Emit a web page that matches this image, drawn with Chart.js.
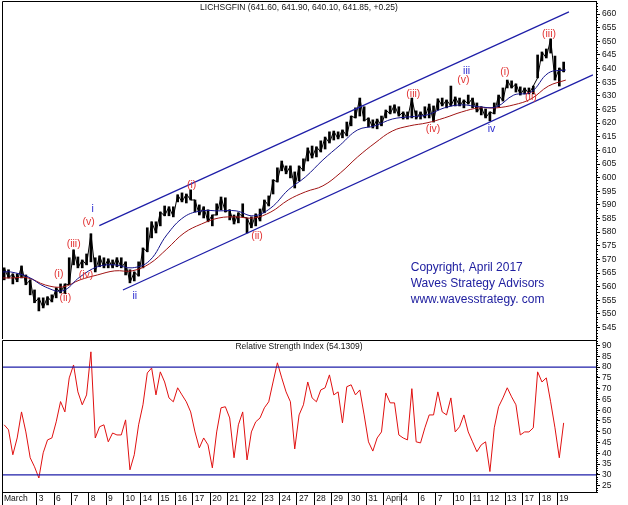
<!DOCTYPE html>
<html>
<head>
<meta charset="utf-8">
<script src="https://cdn.jsdelivr.net/npm/chart.js@4"></script>
<style>
  body { margin: 0; background: #fff; }
  #wrap { position: relative; width: 628px; height: 505px; }
  #pricePanel { position: absolute; left: 0; top: 0; }
  #rsiPanel { position: absolute; left: 0; top: 340px; }
</style>
</head>
<body>
<div id="wrap">
  <canvas id="pricePanel" width="628" height="340"></canvas>
  <canvas id="rsiPanel" width="628" height="165"></canvas>
</div>
<script>
// ---- data ----
const BARS_PER_DAY = 4;

// one entry per trading session, '' = session without its own label
const dayLabels = ['March', '', '3', '6', '7', '8', '9', '10', '14', '15', '16', '17', '20', '21', '22', '23', '24',
  '27', '28', '29', '30', '31', 'April', '4', '6', '7', '10', '11', '12', '13', '17', '18', '19'];

const priceTicks = [545, 550, 555, 560, 565, 570, 575, 580, 585, 590, 595, 600, 605, 610, 615, 620, 625, 630,
  635, 640, 645, 650, 655, 660];
const rsiTicks = [25, 30, 35, 40, 45, 50, 55, 60, 65, 70, 75, 80, 85, 90];

const priceHigh = [
  566.9, 566.2, 564.7, 564.7, 567.6, 564.3, 562.5, 558.8, 555.9, 555.9,
  556.3, 557.0, 559.6, 561.0, 561.0, 570.6, 573.5, 570.9, 569.8, 572.0,
  579.4, 570.6, 571.3, 570.6, 570.2, 569.8, 570.6, 570.6, 569.1, 566.2,
  565.4, 569.1, 574.2, 581.6, 583.8, 583.8, 587.4, 589.6, 589.3, 589.3,
  593.7, 594.4, 594.0, 595.5, 591.8, 590.0, 589.3, 588.2, 586.3, 590.4,
  592.9, 592.6, 588.2, 586.3, 587.1, 590.4, 585.2, 585.6, 586.7, 588.5,
  591.8, 593.3, 599.2, 603.6, 606.1, 604.3, 604.3, 602.1, 604.3, 606.9,
  610.9, 611.6, 611.3, 613.5, 614.9, 616.8, 617.1, 616.8, 617.5, 620.4,
  622.6, 625.6, 629.2, 626.0, 621.9, 621.2, 621.5, 622.6, 624.8, 626.3,
  626.7, 626.0, 624.1, 624.1, 629.2, 624.5, 624.1, 626.0, 627.0, 626.3,
  628.9, 629.2, 628.5, 633.6, 629.6, 629.2, 628.5, 630.3, 629.2, 627.4,
  626.0, 625.2, 624.1, 627.4, 630.3, 632.9, 635.8, 635.5, 634.4, 633.3,
  632.9, 632.9, 633.6, 645.0, 646.1, 647.2, 650.9, 644.6, 640.2, 642.4
];
const priceLow = [
  562.5, 563.2, 561.0, 561.8, 563.2, 560.7, 557.0, 554.1, 551.1, 552.2,
  553.3, 554.4, 555.9, 557.7, 557.4, 560.7, 568.0, 566.9, 566.9, 568.0,
  569.1, 565.4, 567.3, 566.9, 566.9, 566.9, 567.3, 566.9, 564.3, 561.4,
  562.1, 563.9, 566.9, 572.8, 577.9, 579.7, 582.3, 586.0, 586.0, 585.6,
  591.1, 591.1, 590.7, 591.8, 587.4, 586.3, 585.2, 583.8, 582.3, 586.3,
  588.2, 587.4, 584.5, 583.0, 583.4, 585.6, 579.7, 581.6, 582.3, 584.1,
  587.1, 589.6, 594.0, 598.4, 602.5, 601.4, 599.9, 596.2, 598.8, 602.5,
  606.1, 607.2, 607.6, 609.4, 610.5, 612.7, 613.8, 614.2, 614.6, 615.3,
  619.0, 621.9, 622.6, 620.8, 618.6, 618.2, 617.9, 619.0, 621.9, 623.4,
  623.7, 622.6, 621.5, 621.5, 621.9, 621.5, 621.5, 621.9, 621.9, 620.4,
  624.8, 626.3, 625.6, 626.3, 626.3, 626.3, 625.6, 627.0, 625.6, 624.1,
  623.0, 621.9, 620.8, 623.4, 626.0, 628.1, 632.9, 632.9, 631.4, 630.3,
  630.7, 630.7, 630.7, 636.6, 642.8, 643.9, 645.7, 635.8, 633.6, 638.8
];

// moving averages: first value at the session open, then one per session mid-point
const maFast = [565.4, 565.4, 563.6, 559.9, 558.5, 563.6, 567.3, 568.0, 566.9, 569.5, 579.0, 585.6, 587.8,
  587.8, 587.8, 586.0, 588.9, 595.5, 600.3, 606.5, 612.0, 617.5, 619.0, 621.5, 622.3, 623.0, 625.6,
  626.7, 626.0, 626.0, 630.3, 631.4, 638.4, 639.5];
const maSlow = [563.2, 563.2, 563.2, 560.6, 559.9, 562.5, 564.3, 565.8, 565.8, 568.4, 573.8, 579.7, 583.0,
  585.2, 585.6, 585.2, 587.4, 591.8, 594.8, 597.0, 601.7, 607.6, 612.7, 617.1, 619.0, 620.1, 621.9,
  624.1, 625.6, 625.6, 626.7, 628.9, 633.6, 635.8];

const rsiValues = [
  53.2, 50.9, 39.3, 47.1, 59.2, 49.9, 37.9, 33.7, 28.5, 40.2,
  46.2, 47.1, 54.6, 64.0, 59.2, 75.0, 81.0, 68.5, 62.5, 67.1,
  87.1, 47.1, 52.3, 53.2, 45.3, 49.4, 48.5, 48.5, 55.5, 32.3,
  39.3, 53.2, 62.5, 77.3, 79.6, 67.1, 77.8, 73.1, 65.7, 63.9,
  70.4, 67.1, 63.9, 59.2, 49.9, 42.5, 47.1, 43.9, 33.2, 49.9,
  61.1, 61.6, 56.4, 37.9, 53.2, 59.2, 36.9, 49.9, 54.6, 56.4,
  61.1, 63.9, 73.1, 82.0, 75.0, 68.5, 63.9, 42.0, 57.8, 62.5,
  73.1, 65.7, 63.9, 69.4, 70.4, 76.4, 67.1, 68.5, 54.1, 70.9,
  71.8, 67.1, 69.4, 57.8, 45.3, 41.0, 47.1, 49.9, 68.0, 63.4,
  63.4, 48.5, 47.1, 46.2, 70.0, 45.3, 44.8, 51.8, 57.8, 57.8,
  68.5, 59.2, 57.8, 65.7, 49.9, 52.3, 57.8, 49.9, 45.3, 40.7,
  43.9, 45.3, 31.5, 51.8, 61.6, 65.7, 70.4, 66.2, 62.5, 48.5,
  49.9, 49.9, 51.8, 77.8, 73.1, 75.0, 63.9, 51.8, 37.9, 54.1
];
const rsiUpperBand = 80;
const rsiLowerBand = 30;

// trend channel end points (session, price)
const channelUpper = [{ x: 5.61, y: 582.4 }, { x: 32.68, y: 660.8 }];
const channelLower = [{ x: 6.97, y: 558.8 }, { x: 34.06, y: 637.7 }];

// Elliott wave counts
const waveLabels = [
  { text: 'i', x: 5.23, y: 588.5, blue: true },
  { text: '(v)', x: 4.99, y: 583.6 },
  { text: '(iii)', x: 4.13, y: 575.7 },
  { text: '(i)', x: 3.27, y: 564.7 },
  { text: '(iv)', x: 4.84, y: 564.3 },
  { text: '(ii)', x: 3.65, y: 555.9 },
  { text: 'ii', x: 7.65, y: 556.6, blue: true },
  { text: '(i)', x: 10.93, y: 597.3 },
  { text: '(ii)', x: 14.70, y: 578.6 },
  { text: '(iii)', x: 23.71, y: 630.7 },
  { text: '(iv)', x: 24.84, y: 617.9 },
  { text: 'iii', x: 26.78, y: 639.2, blue: true },
  { text: '(v)', x: 26.59, y: 635.8 },
  { text: '(i)', x: 28.99, y: 638.8 },
  { text: 'iv', x: 28.22, y: 617.9, blue: true },
  { text: '(ii)', x: 30.49, y: 629.6 },
  { text: '(iii)', x: 31.53, y: 652.8 }
];
const noteLines = ['Copyright, April 2017', 'Waves Strategy Advisors', 'www.wavesstrategy. com'];
const notePrices = [566.9, 561.0, 555.2];
const noteSession = 23.56;

const priceTitle = 'LICHSGFIN (641.60, 641.90, 640.10, 641.85, +0.25)';
const rsiTitle = 'Relative Strength Index (54.1309)';

// ---- look ----
const X_MAX = 34.24;
const FONT = "'Liberation Sans', Arial, sans-serif";
const NAVY = '#1e1ea8';
const WAVE_RED = '#e23434';
const WAVE_BLUE = '#2a2ad0';

const barX = i => (i + 0.5) / BARS_PER_DAY;
const maDays = [0.05, ...dayLabels.map((_, d) => d + 0.5)];
const dayTicks = dayLabels.map((l, d) => (l ? d : null)).filter(d => d !== null);

// zig-zag trace through the bar extremes, gives the dense hand-drawn look of the original
const priceTrace = priceHigh.map((h, i) => ({ x: barX(i), y: i % 2 ? priceLow[i] : h }));

function fixAxisWidth(width) {
  return scale => {
    scale.width = width;
    scale.paddingTop = 0;
    scale.paddingBottom = 0;
  };
}

function panelDecor(title, drawExtra) {
  return {
    id: 'panelDecor',
    afterDraw(chart) {
      const { ctx, chartArea: a } = chart;
      const y = chart.scales.y;
      ctx.save();
      ctx.strokeStyle = '#000';
      ctx.lineWidth = 1;
      ctx.beginPath();
      ctx.moveTo(a.left + 0.5, a.bottom);
      ctx.lineTo(a.left + 0.5, a.top + 0.5);
      ctx.lineTo(a.right, a.top + 0.5);
      ctx.stroke();
      // minor ticks on the value axis
      ctx.beginPath();
      for (let v = Math.ceil(y.min); v <= y.max; v++) {
        if (v % 5 === 0) continue;
        const py = Math.round(y.getPixelForValue(v)) + 0.5;
        ctx.moveTo(a.right, py);
        ctx.lineTo(a.right + 2, py);
      }
      ctx.stroke();
      ctx.font = '8.5px ' + FONT;
      ctx.fillStyle = '#111';
      ctx.textAlign = 'center';
      ctx.textBaseline = 'top';
      ctx.fillText(title, (a.left + a.right) / 2, a.top + 2);
      if (drawExtra) drawExtra(chart, ctx);
      ctx.restore();
    }
  };
}

function drawPriceNotes(chart, ctx) {
  const sx = chart.scales.x, sy = chart.scales.y;
  ctx.textAlign = 'center';
  ctx.textBaseline = 'middle';
  ctx.font = '10.5px ' + FONT;
  waveLabels.forEach(l => {
    ctx.fillStyle = l.blue ? WAVE_BLUE : WAVE_RED;
    ctx.fillText(l.text, sx.getPixelForValue(l.x), sy.getPixelForValue(l.y));
  });
  ctx.textAlign = 'left';
  ctx.font = '12px ' + FONT;
  ctx.fillStyle = '#2020a0';
  noteLines.forEach((t, i) => {
    ctx.fillText(t, sx.getPixelForValue(noteSession), sy.getPixelForValue(notePrices[i]));
  });
}

const lineStyle = (color, width) => ({
  type: 'line',
  borderColor: color,
  borderWidth: width,
  pointRadius: 0,
  fill: false
});

// ---- price panel ----
new Chart(document.getElementById('pricePanel'), {
  type: 'bar',
  data: {
    datasets: [
      {
        label: 'LICHSGFIN',
        data: priceHigh.map((h, i) => ({ x: barX(i), y: [priceLow[i], h] })),
        backgroundColor: '#000',
        barThickness: 2,
        order: 5
      },
      { ...lineStyle('#000', 1), label: 'LICHSGFIN trace', order: 4, data: priceTrace },
      { ...lineStyle('#a01414', 1), label: 'MA slow', tension: 0.4, order: 2,
        data: maSlow.map((v, i) => ({ x: maDays[i], y: v })) },
      { ...lineStyle('#14148c', 1), label: 'MA fast', tension: 0.4, order: 1,
        data: maFast.map((v, i) => ({ x: maDays[i], y: v })) },
      { ...lineStyle(NAVY, 1.2), label: 'Channel top', order: 0, data: channelUpper },
      { ...lineStyle(NAVY, 1.2), label: 'Channel bottom', order: 0, data: channelLower }
    ]
  },
  options: {
    responsive: false,
    animation: false,
    layout: { padding: { left: 2, top: 1, right: 0, bottom: 1 } },
    plugins: { legend: { display: false }, tooltip: { enabled: false } },
    scales: {
      x: { type: 'linear', min: 0, max: X_MAX, offset: false, display: false },
      y: {
        position: 'right',
        min: 540.8,
        max: 664.8,
        afterBuildTicks: s => { s.ticks = priceTicks.map(v => ({ value: v })); },
        afterFit: fixAxisWidth(32),
        border: { color: '#000', width: 1 },
        grid: { drawOnChartArea: false, color: '#000', tickLength: 4 },
        ticks: { autoSkip: false, color: '#111', padding: 2, font: { family: FONT, size: 8.5 } }
      }
    }
  },
  plugins: [panelDecor(priceTitle, drawPriceNotes)]
});

// ---- RSI panel ----
new Chart(document.getElementById('rsiPanel'), {
  type: 'line',
  data: {
    datasets: [
      { ...lineStyle(NAVY, 1.2), label: 'Overbought',
        data: [{ x: 0, y: rsiUpperBand }, { x: X_MAX, y: rsiUpperBand }] },
      { ...lineStyle(NAVY, 1.2), label: 'Oversold',
        data: [{ x: 0, y: rsiLowerBand }, { x: X_MAX, y: rsiLowerBand }] },
      { ...lineStyle('#e01010', 1), label: 'RSI',
        data: rsiValues.map((v, i) => ({ x: barX(i), y: v })) }
    ]
  },
  options: {
    responsive: false,
    animation: false,
    layout: { padding: { left: 2, top: 0, right: 0, bottom: 0 } },
    plugins: { legend: { display: false }, tooltip: { enabled: false } },
    scales: {
      x: {
        type: 'linear',
        min: 0,
        max: X_MAX,
        afterBuildTicks: s => { s.ticks = dayTicks.map(d => ({ value: d })); },
        afterFit: s => { s.height = 13; s.paddingLeft = 0; s.paddingRight = 0; },
        border: { color: '#000', width: 1 },
        grid: { drawOnChartArea: false, color: '#000', tickLength: 13 },
        ticks: {
          autoSkip: false,
          maxRotation: 0,
          align: 'start',
          labelOffset: 2,
          padding: -11,
          color: '#111',
          font: { family: FONT, size: 8.5 },
          callback: v => dayLabels[v]
        }
      },
      y: {
        position: 'right',
        min: 22,
        max: 92.6,
        afterBuildTicks: s => { s.ticks = rsiTicks.map(v => ({ value: v })); },
        afterFit: fixAxisWidth(32),
        border: { color: '#000', width: 1 },
        grid: { drawOnChartArea: false, color: '#000', tickLength: 4 },
        ticks: { autoSkip: false, color: '#111', padding: 2, font: { family: FONT, size: 8.5 } }
      }
    }
  },
  plugins: [panelDecor(rsiTitle)]
});
</script>
</body>
</html>
